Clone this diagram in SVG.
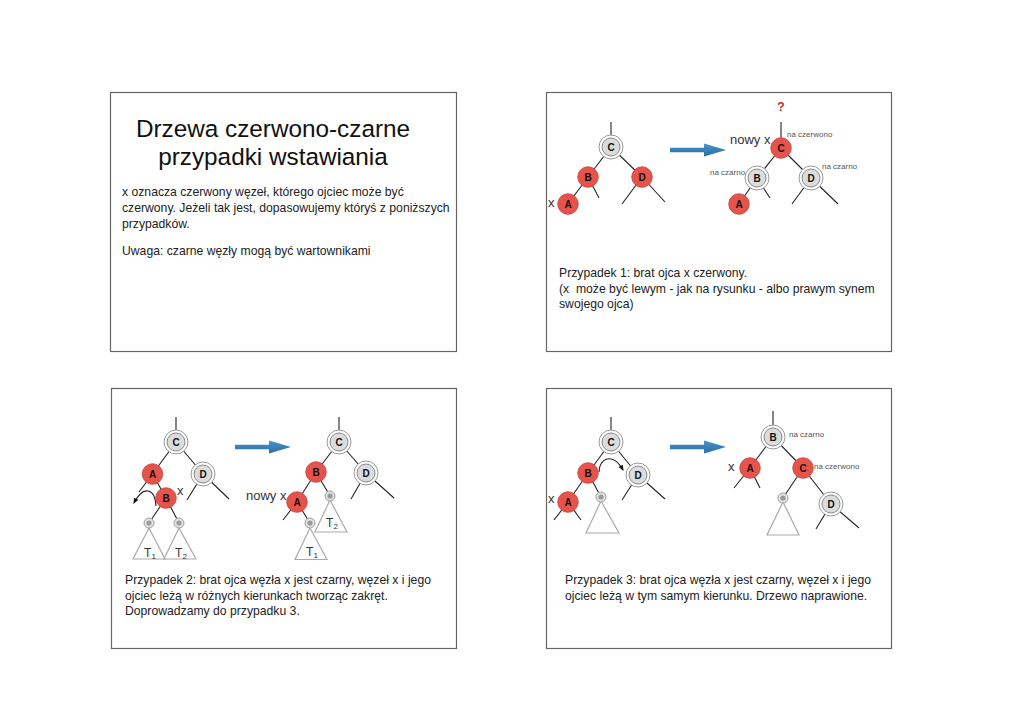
<svg xmlns="http://www.w3.org/2000/svg" xmlns:xlink="http://www.w3.org/1999/xlink" width="1024" height="725" viewBox="0 0 1024 725">
<style>
.panel{fill:#fff;stroke:#666;stroke-width:1.2}
.ln{stroke:#222;stroke-width:1.1;fill:none}
.tri{fill:#fff;stroke:#aaa;stroke-width:1.2}
.red{fill:#E5534B;stroke:#C8443D;stroke-width:0.8}
.ring{fill:#fff;stroke:#999;stroke-width:1}
.gin{fill:#DCDCDC;stroke:#8a8a8a;stroke-width:1}
.sout{fill:#e2e2e2;stroke:#a0a0a0;stroke-width:1}
.sin{fill:#9a9a9a}
.lab{font-family:"Liberation Sans",Arial,sans-serif;font-size:10px;font-weight:bold;fill:#111;text-anchor:middle}
.body{font-family:"Liberation Sans",Arial,sans-serif;font-size:12.2px;fill:#222}
.title{font-family:"Liberation Sans",Arial,sans-serif;font-size:24.3px;fill:#111;text-anchor:middle}
.small{font-family:"Liberation Sans",Arial,sans-serif;font-size:8px;fill:#555}
.mid{font-family:"Liberation Sans",Arial,sans-serif;font-size:13px;fill:#333}
.tl{font-family:"Liberation Sans",Arial,sans-serif;font-size:12px;fill:#333;text-anchor:middle}
.big{fill:url(#bg)}
</style>
<defs>
<linearGradient id="bg" x1="0" y1="0" x2="0" y2="1">
<stop offset="0" stop-color="#4a93c9"/>
<stop offset="1" stop-color="#2a6ea6"/>
</linearGradient>
<marker id="ah" viewBox="0 0 10 10" refX="8" refY="5" markerWidth="6" markerHeight="6" orient="auto" markerUnits="userSpaceOnUse">
<path d="M0,1 L10,5 L0,9 Z" fill="#111"/>
</marker>
<path id="bigarrow" d="M0,-2.2 L34,-2.2 L34,-6.5 L56,0 L34,6.5 L34,2.2 L0,2.2 Z"/>
<g id="gray"><circle class="ring" r="12"/><circle class="gin" r="9"/></g>
<g id="sent"><circle class="sout" r="5"/><circle class="sin" r="2.6"/></g>
</defs>

<g id="panels">
<rect class="panel" x="110.5" y="92.5" width="346" height="259"/>
<rect class="panel" x="546.5" y="92.5" width="345" height="259"/>
<rect class="panel" x="111.5" y="388.5" width="345" height="260"/>
<rect class="panel" x="546.5" y="388.5" width="345" height="260"/>
</g>

<g id="panel1-text">
<text class="title" x="273" y="137">Drzewa czerwono-czarne</text>
<text class="title" x="273" y="165">przypadki wstawiania</text>
<text class="body" x="122" y="196">x oznacza czerwony węzeł, którego ojciec może być</text>
<text class="body" x="122" y="212">czerwony. Jeżeli tak jest, dopasowujemy któryś z poniższych</text>
<text class="body" x="122" y="228">przypadków.</text>
<text class="body" x="122" y="255">Uwaga: czarne węzły mogą być wartownikami</text>
</g>

<g id="connectors">
<!-- panel 2 left -->
<line class="ln" x1="611" y1="122" x2="611" y2="136"/>
<line class="ln" x1="611" y1="147" x2="588" y2="177"/>
<line class="ln" x1="611" y1="147" x2="642" y2="177"/>
<line class="ln" x1="588" y1="177" x2="568" y2="204"/>
<line class="ln" x1="588" y1="177" x2="599" y2="198"/>
<line class="ln" x1="642" y1="177" x2="622" y2="204"/>
<line class="ln" x1="642" y1="177" x2="665" y2="202"/>
<!-- panel 2 right -->
<line class="ln" x1="781" y1="122" x2="781" y2="140"/>
<line class="ln" x1="781" y1="148" x2="757" y2="178"/>
<line class="ln" x1="781" y1="148" x2="811" y2="178"/>
<line class="ln" x1="757" y1="178" x2="739" y2="204"/>
<line class="ln" x1="757" y1="178" x2="770" y2="198"/>
<line class="ln" x1="811" y1="178" x2="792" y2="204"/>
<line class="ln" x1="811" y1="178" x2="838" y2="204"/>
<!-- panel 3 left -->
<line class="ln" x1="176" y1="417" x2="176" y2="432"/>
<line class="ln" x1="176" y1="442" x2="152.5" y2="474"/>
<line class="ln" x1="176" y1="442" x2="203" y2="474"/>
<line class="ln" x1="152.5" y1="474" x2="166" y2="498"/>
<line class="ln" x1="152.5" y1="474" x2="139" y2="492"/>
<line class="ln" x1="203" y1="474" x2="187" y2="500"/>
<line class="ln" x1="203" y1="474" x2="229" y2="499"/>
<line class="ln" x1="166" y1="498" x2="149" y2="523"/>
<line class="ln" x1="166" y1="498" x2="179" y2="523"/>
<path class="ln" d="M156,506 C155,488 143,485 134,503" marker-end="url(#ah)"/>
<!-- panel 3 right -->
<line class="ln" x1="339" y1="417" x2="339" y2="432"/>
<line class="ln" x1="339" y1="442" x2="316" y2="472"/>
<line class="ln" x1="339" y1="442" x2="366" y2="473"/>
<line class="ln" x1="316" y1="472" x2="297" y2="502"/>
<line class="ln" x1="316" y1="472" x2="330" y2="496"/>
<line class="ln" x1="366" y1="473" x2="351" y2="499"/>
<line class="ln" x1="366" y1="473" x2="394" y2="498"/>
<line class="ln" x1="297" y1="502" x2="283" y2="520"/>
<line class="ln" x1="297" y1="502" x2="310" y2="523"/>
<!-- panel 4 left -->
<line class="ln" x1="611" y1="417" x2="611" y2="432"/>
<line class="ln" x1="611" y1="442" x2="588" y2="473"/>
<line class="ln" x1="611" y1="442" x2="638" y2="475"/>
<line class="ln" x1="588" y1="473" x2="568" y2="502"/>
<line class="ln" x1="588" y1="473" x2="601" y2="497"/>
<line class="ln" x1="638" y1="475" x2="622" y2="500"/>
<line class="ln" x1="638" y1="475" x2="665" y2="499"/>
<line class="ln" x1="568" y1="502" x2="554" y2="520"/>
<line class="ln" x1="568" y1="502" x2="581" y2="520"/>
<path class="ln" d="M599,472 C599,458 613,452 623,470" marker-end="url(#ah)"/>
<!-- panel 4 right -->
<line class="ln" x1="773" y1="411" x2="773" y2="427"/>
<line class="ln" x1="773" y1="437" x2="750" y2="468"/>
<line class="ln" x1="773" y1="437" x2="803" y2="468"/>
<line class="ln" x1="750" y1="468" x2="734" y2="488"/>
<line class="ln" x1="750" y1="468" x2="760" y2="488"/>
<line class="ln" x1="803" y1="468" x2="783" y2="498"/>
<line class="ln" x1="803" y1="468" x2="831" y2="504"/>
<line class="ln" x1="831" y1="504" x2="816" y2="529"/>
<line class="ln" x1="831" y1="504" x2="859" y2="528"/>
</g>

<g id="big-arrows">
<use href="#bigarrow" class="big" transform="translate(670,150)"/>
<use href="#bigarrow" class="big" transform="translate(235,447)"/>
<use href="#bigarrow" class="big" transform="translate(670,447)"/>
</g>

<g id="subtrees">
<polygon class="tri" points="149,528 133,559 165,559"/>
<polygon class="tri" points="179,528 164,559 196,559"/>
<polygon class="tri" points="330,500 315,532 347,532"/>
<polygon class="tri" points="310,528 295,559.5 327,559.5"/>
<polygon class="tri" points="601,501 586,533 619,533"/>
<polygon class="tri" points="783,502 767,535 799,535"/>
<text class="tl" x="150" y="557">T<tspan font-size="8" dy="2" fill="#333">1</tspan></text>
<text class="tl" x="181" y="557">T<tspan font-size="8" dy="2" fill="#333">2</tspan></text>
<text class="tl" x="332" y="527">T<tspan font-size="8" dy="2" fill="#333">2</tspan></text>
<text class="tl" x="312" y="556">T<tspan font-size="8" dy="2" fill="#333">1</tspan></text>
</g>

<!-- panel 2 nodes -->
<g id="p2-C"><use href="#gray" x="611" y="147"/><text class="lab" x="611" y="150.5">C</text></g>
<g id="p2-B"><circle class="red" cx="588" cy="177" r="10.3"/><text class="lab" x="588" y="180.5">B</text></g>
<g id="p2-D"><circle class="red" cx="642" cy="177" r="10.3"/><text class="lab" x="642" y="180.5">D</text></g>
<g id="p2-A"><circle class="red" cx="568" cy="204" r="10.3"/><text class="lab" x="568" y="207.5">A</text></g>
<text class="mid" x="548" y="207">x</text>
<g id="p2-C2"><circle class="red" cx="781" cy="148" r="10.3"/><text class="lab" x="781" y="151.5">C</text></g>
<g id="p2-B2"><use href="#gray" x="757" y="178"/><text class="lab" x="757" y="181.5">B</text></g>
<g id="p2-D2"><use href="#gray" x="811" y="178"/><text class="lab" x="811" y="181.5">D</text></g>
<g id="p2-A2"><circle class="red" cx="739" cy="204" r="10.3"/><text class="lab" x="739" y="207.5">A</text></g>
<text x="781" y="111" font-family="Liberation Sans,Arial,sans-serif" font-size="12" font-weight="bold" fill="#D0261C" text-anchor="middle">?</text>
<text class="mid" x="730" y="144">nowy x</text>
<text class="small" x="787" y="137">na czerwono</text>
<text class="small" x="710" y="175">na czarno</text>
<text class="small" x="822" y="169">na czarno</text>
<g id="panel2-text">
<text class="body" x="559" y="277">Przypadek 1: brat ojca x czerwony.</text>
<text class="body" x="559" y="292.5" xml:space="preserve">(x  może być lewym - jak na rysunku - albo prawym synem</text>
<text class="body" x="559" y="308">swojego ojca)</text>
</g>

<!-- panel 3 nodes -->
<g id="p3-C"><use href="#gray" x="176" y="442"/><text class="lab" x="176" y="445.5">C</text></g>
<g id="p3-A"><circle class="red" cx="152.5" cy="474" r="10.3"/><text class="lab" x="152.5" y="477.5">A</text></g>
<g id="p3-D"><use href="#gray" x="203" y="474"/><text class="lab" x="203" y="477.5">D</text></g>
<g id="p3-B"><circle class="red" cx="166" cy="498" r="10.3"/><text class="lab" x="166" y="501.5">B</text></g>
<g id="p3-S1"><use href="#sent" x="149" y="523"/></g>
<g id="p3-S2"><use href="#sent" x="179" y="523"/></g>
<text class="mid" x="177" y="495">x</text>
<g id="p3-C2"><use href="#gray" x="339" y="442"/><text class="lab" x="339" y="445.5">C</text></g>
<g id="p3-B2"><circle class="red" cx="316" cy="472" r="10.3"/><text class="lab" x="316" y="475.5">B</text></g>
<g id="p3-D2"><use href="#gray" x="366" y="473"/><text class="lab" x="366" y="476.5">D</text></g>
<g id="p3-A2"><circle class="red" cx="297" cy="502" r="10.3"/><text class="lab" x="297" y="505.5">A</text></g>
<g id="p3-S3"><use href="#sent" x="330" y="496"/></g>
<g id="p3-S4"><use href="#sent" x="310" y="523"/></g>
<text class="mid" x="246" y="500">nowy x</text>
<g id="panel3-text">
<text class="body" x="125" y="584">Przypadek 2: brat ojca węzła x jest czarny, węzeł x i jego</text>
<text class="body" x="125" y="600">ojciec leżą w różnych kierunkach tworząc zakręt.</text>
<text class="body" x="125" y="615">Doprowadzamy do przypadku 3.</text>
</g>

<!-- panel 4 nodes -->
<g id="p4-C"><use href="#gray" x="611" y="442"/><text class="lab" x="611" y="445.5">C</text></g>
<g id="p4-B"><circle class="red" cx="588" cy="473" r="10.3"/><text class="lab" x="588" y="476.5">B</text></g>
<g id="p4-D"><use href="#gray" x="638" y="475"/><text class="lab" x="638" y="478.5">D</text></g>
<g id="p4-A"><circle class="red" cx="568" cy="502" r="10.3"/><text class="lab" x="568" y="505.5">A</text></g>
<g id="p4-S"><use href="#sent" x="601" y="497"/></g>
<text class="mid" x="548" y="503">x</text>
<g id="p4-B2"><use href="#gray" x="773" y="437"/><text class="lab" x="773" y="440.5">B</text></g>
<g id="p4-A2"><circle class="red" cx="750" cy="468" r="10.3"/><text class="lab" x="750" y="471.5">A</text></g>
<g id="p4-C2"><circle class="red" cx="803" cy="468" r="10.3"/><text class="lab" x="803" y="471.5">C</text></g>
<g id="p4-S2"><use href="#sent" x="783" y="498"/></g>
<g id="p4-D2"><use href="#gray" x="831" y="504"/><text class="lab" x="831" y="507.5">D</text></g>
<text class="mid" x="728" y="471">x</text>
<text class="small" x="789" y="437">na czarno</text>
<text class="small" x="814" y="469">na czerwono</text>
<g id="panel4-text">
<text class="body" x="565" y="584">Przypadek 3: brat ojca węzła x jest czarny, węzeł x i jego</text>
<text class="body" x="565" y="600">ojciec leżą w tym samym kierunku. Drzewo naprawione.</text>
</g>
</svg>
